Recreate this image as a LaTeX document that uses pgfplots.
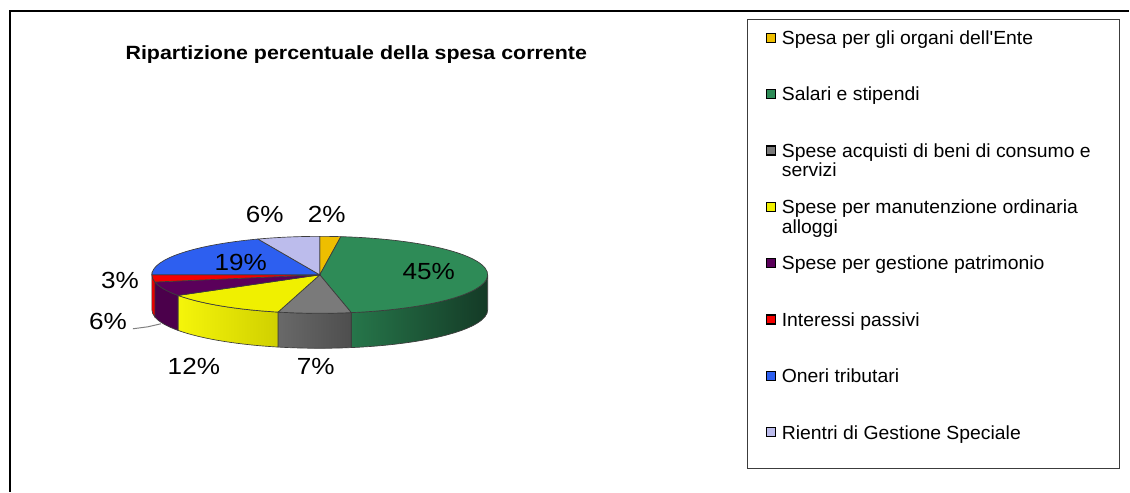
\documentclass[border=0pt]{standalone}
\usepackage{fontspec}
\setmainfont{Liberation Sans}
\usepackage{pgfplots}
\pgfplotsset{compat=1.18}
\definecolor{cOra}{RGB}{238,190,0}
\definecolor{cGre}{RGB}{46,139,87}
\definecolor{cGreL}{RGB}{38,118,74}
\definecolor{cGreD}{RGB}{20,58,38}
\definecolor{cGry}{RGB}{122,122,122}
\definecolor{cGryL}{RGB}{105,105,105}
\definecolor{cGryD}{RGB}{78,78,78}
\definecolor{cYel}{RGB}{240,240,0}
\definecolor{cYelL}{RGB}{245,245,10}
\definecolor{cYelD}{RGB}{208,208,0}
\definecolor{cPur}{RGB}{90,0,90}
\definecolor{cPurD}{RGB}{75,0,75}
\definecolor{cRed}{RGB}{245,0,0}
\definecolor{cRedD}{RGB}{210,0,0}
\definecolor{cBlu}{RGB}{45,95,240}
\definecolor{cLav}{RGB}{188,188,236}
\definecolor{edge}{RGB}{60,60,60}

% pie geometry, in axis units (1 unit = 0.6pt)
\def\cx{320}\def\cy{217}\def\rx{168}\def\ry{38.5}
\def\rxpt{100.8pt}\def\rypt{23.1pt}\def\deppt{21pt}
% value / top colour / side left colour / side right colour
\def\slices{2/cOra/cOra/cOra, 45/cGre/cGreL/cGreD, 7/cGry/cGryL/cGryD,
  12/cYel/cYelL/cYelD, 6/cPur/cPurD/cPurD, 3/cRed/cRed/cRedD,
  19/cBlu/cBlu/cBlu, 6/cLav/cLav/cLav}

\begin{document}
\begin{tikzpicture}
\begin{axis}[
  scale only axis, width=678pt, height=295.2pt,
  xmin=0, xmax=1130, ymin=0, ymax=492,
  hide axis, clip=false,
]
\path (axis cs:0,0) rectangle (axis cs:1130,492);
% outer frame
\draw[black, line width=0.9pt] (axis cs:10,0) -- (axis cs:10,481) -- (axis cs:1130,481);

\pgfplotsextra{
  % side faces (front half only)
  \gdef\curA{90}
  \foreach \v/\ct/\cl/\cr in \slices {
    \pgfmathsetmacro\a{\curA}
    \pgfmathsetmacro\b{\curA-3.6*\v}
    \pgfmathsetmacro\sA{min(\a,0)}
    \pgfmathsetmacro\sB{max(\b,-180)}
    \ifdim\sA pt>\sB pt
      \shadedraw[left color=\cl, right color=\cr, draw=edge, line width=0.4pt]
        ({\cx+\rx*cos(\sA)},{\cy+\ry*sin(\sA)})
        arc[start angle=\sA, end angle=\sB, x radius=\rxpt, y radius=\rypt]
        -- ++(0pt,-\deppt)
        arc[start angle=\sB, end angle=\sA, x radius=\rxpt, y radius=\rypt]
        -- cycle;
    \fi
    \xdef\curA{\b}
  }
  % top faces
  \gdef\curA{90}
  \foreach \v/\ct/\cl/\cr in \slices {
    \pgfmathsetmacro\a{\curA}
    \pgfmathsetmacro\b{\curA-3.6*\v}
    \filldraw[fill=\ct, draw=edge, line width=0.4pt]
      (\cx,\cy) -- ({\cx+\rx*cos(\a)},{\cy+\ry*sin(\a)})
      arc[start angle=\a, end angle=\b, x radius=\rxpt, y radius=\rypt]
      -- cycle;
    \xdef\curA{\b}
  }
}

% title
\node[font=\fontsize{11.5}{13}\selectfont\bfseries, xscale=1.117] at (axis cs:356.5,437)
  {Ripartizione percentuale della spesa corrente};

% percentage labels
\begin{scope}[every node/.style={font=\fontsize{14}{16}\selectfont, xscale=1.12}]
\node at (axis cs:327,277) {2\%};
\node at (axis cs:429,220) {45\%};
\node at (axis cs:316,125) {7\%};
\node at (axis cs:194,125) {12\%};
\node at (axis cs:108,170) {6\%};
\node at (axis cs:120,211) {3\%};
\node at (axis cs:241,229) {19\%};
\node at (axis cs:265,277) {6\%};
\end{scope}
\draw[gray, line width=0.6pt] (axis cs:133,163) -- (axis cs:148,165) -- (axis cs:161,168);

% legend
\draw[edge, line width=0.6pt] (axis cs:748,23) rectangle (axis cs:1120,472);
\begin{scope}[every node/.style={font=\fontsize{11.4}{13}\selectfont, anchor=base west, inner sep=0pt, xscale=1.02}]
\node at (axis cs:782,447.5) {Spesa per gli organi dell\textquotesingle Ente};
\node at (axis cs:782,391.1) {Salari e stipendi};
\node at (axis cs:782,334.7) {Spese acquisti di beni di consumo e};
\node at (axis cs:782,315.2) {servizi};
\node at (axis cs:782,278.3) {Spese per manutenzione ordinaria};
\node at (axis cs:782,258.8) {alloggi};
\node at (axis cs:782,221.9) {Spese per gestione patrimonio};
\node at (axis cs:782,165.5) {Interessi passivi};
\node at (axis cs:782,109.1) {Oneri tributari};
\node at (axis cs:782,52.7) {Rientri di Gestione Speciale};
\end{scope}
\begin{scope}[line width=0.8pt, draw=black]
\filldraw[fill=cOra] (axis cs:767,449.7) rectangle (axis cs:776,458.7);
\filldraw[fill=cGre] (axis cs:767,393.3) rectangle (axis cs:776,402.3);
\filldraw[fill=cGry] (axis cs:767,336.9) rectangle (axis cs:776,345.9);
\filldraw[fill=cYel] (axis cs:767,280.5) rectangle (axis cs:776,289.5);
\filldraw[fill=cPur] (axis cs:767,224.1) rectangle (axis cs:776,233.1);
\filldraw[fill=cRed] (axis cs:767,167.7) rectangle (axis cs:776,176.7);
\filldraw[fill=cBlu] (axis cs:767,111.3) rectangle (axis cs:776,120.3);
\filldraw[fill=cLav] (axis cs:767,54.9) rectangle (axis cs:776,63.9);
\end{scope}
\end{axis}
\end{tikzpicture}
\end{document}
